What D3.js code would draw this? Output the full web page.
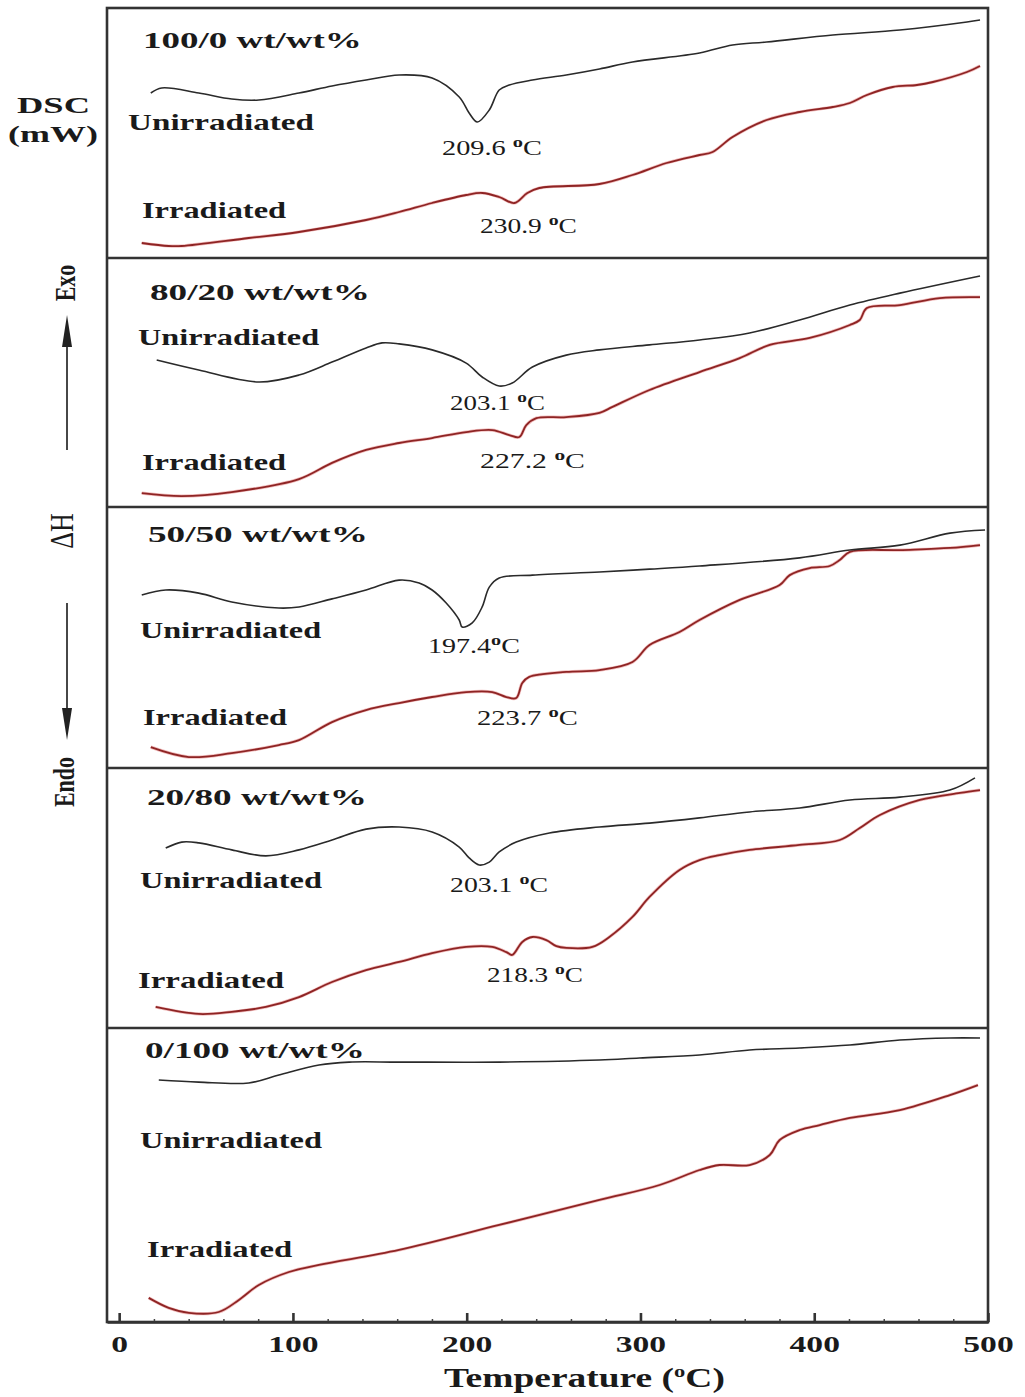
<!DOCTYPE html>
<html>
<head>
<meta charset="utf-8">
<script src="https://cdn.jsdelivr.net/npm/d3@7"></script>
<style>
body { margin: 0; background: #fff; }
svg { display: block; }
text { font-family: "Liberation Serif", "DejaVu Serif", serif; fill: #1a1a1a; }
</style>
</head>
<body>
<div id="main"></div>
<script>
// panel names (blend ratio) and peak temperatures
const blends = ["100/0 wt/wt%", "80/20 wt/wt%", "50/50 wt/wt%", "20/80 wt/wt%", "0/100 wt/wt%"];
const peakUnirr = ["209.6 ", "203.1 ", "197.4", "203.1 ", null];
const peakIrr = ["230.9 ", "227.2 ", "223.7  ", "218.3 ", null];
const xTicks = [0, 100, 200, 300, 400, 500];

// DSC traces, [temperature °C, heat flow in % of panel height]
const unirr100 = [[18.2,66],[24.5,68],[45.8,66],[64.8,63.6],[80.4,63.2],[103.5,66],[122.5,68.8],[142.1,71.2],[161.1,73.2],[180.1,72],[195.7,64.4],[201.4,58],[206.1,54.4],[213,59.2],[218.7,67.2],[224.5,69.2],[237.8,71.2],[257.3,73.2],[276.4,75.6],[295.4,78.4],[334,82],[353,85.2],[372.6,86.4],[410.7,89.2],[449.3,91.2],[487.9,94.4],[495.4,95.2]];
const irr100 = [[13,6],[28.5,4.8],[36,4.8],[74.6,8],[103.5,10.4],[142.1,15.2],[161.1,18.4],[180.1,22],[199.7,25.2],[208.9,26],[218.7,24.4],[227.4,22],[234.9,26],[241.8,28],[276.4,29.6],[295.4,33.2],[315,38],[334,41.2],[341.5,42.4],[353,48.4],[372.6,55.2],[391.6,58.4],[410.7,60.4],[420.5,62],[430.3,65.2],[445.2,68.4],[459.1,69.2],[468.3,70.4],[487.9,74.4],[495.4,76.8]];

const unirr80 = [[21.6,59],[45.8,55],[80.4,50.2],[103.5,53],[122.5,58.2],[142.1,63.9],[151.3,65.9],[161.1,65.5],[180.1,63.1],[199.7,57.8],[208.9,52.2],[218.7,48.6],[226.2,49.8],[237.8,56.2],[257.3,61],[276.4,63.1],[305.2,65.1],[334,67.1],[362.8,69.9],[391.6,75.1],[420.5,81.1],[449.3,85.9],[495.4,92.8]];
const irr80 = [[13,5.6],[36,4.4],[64.8,6],[103.5,11.2],[122.5,17.7],[142.1,22.9],[161.1,25.7],[180.1,27.7],[199.7,30.1],[214.7,30.9],[224.5,28.9],[230.3,28.1],[234.3,32.9],[240.1,35.7],[257.3,36.1],[276.4,37.8],[283.9,40.2],[305.2,47],[334,54.2],[357.1,59.8],[374.4,65.1],[397.4,67.9],[420.5,73.1],[426.2,75.1],[430.3,79.9],[449.3,81.1],[472.3,83.9],[495.4,84.3]];

const unirr50 = [[13,66.3],[26.8,68.2],[45.8,67],[64.8,63.6],[91.9,61.3],[103.5,61.7],[122.5,64.8],[142.1,68.2],[161.1,72],[172.6,70.9],[180.1,68.2],[188.2,63.2],[195.7,56.7],[197.4,54],[203.2,55.6],[208.9,61.7],[213,69.3],[218.7,72.8],[237.8,73.9],[276.4,75.1],[305.2,76.2],[334,77.4],[391.6,80.5],[420.5,83.5],[449.3,85.4],[478.1,90],[498.3,91.2]];
const irr50 = [[18.2,8],[40.1,4.2],[64.8,5.7],[91.9,8.8],[103.5,10.7],[122.5,17.6],[142.1,22.2],[161.1,24.9],[180.1,27.2],[199.7,29.1],[214.7,29.1],[222.8,27.2],[228.5,26.8],[232,32.6],[236,34.9],[257.3,36.8],[276.4,37.5],[295.4,40.6],[305.2,47.1],[322.5,52.1],[334,56.7],[357.1,64.4],[380.1,70.1],[385.9,73.9],[397.4,76.6],[408.9,77.4],[414.7,79.7],[420.5,82.8],[449.3,83.5],[478.1,84.3],[495.4,85.4]];

const unirr20 = [[26.8,69.2],[36,71.5],[45.8,71.2],[64.8,68.5],[84.4,66.2],[103.5,68.5],[122.5,72.3],[142.1,76.5],[161.1,77.3],[180.1,75.4],[195.7,69.6],[201.4,65.4],[207.2,62.7],[213,63.8],[218.7,67.7],[228.5,71.5],[247.6,75],[276.4,77.3],[305.2,78.8],[334,80.8],[362.8,83.1],[391.6,84.6],[420.5,87.7],[449.3,88.8],[478.1,91.5],[492.5,96.2]];
const irr20 = [[21,8.1],[45.8,5.4],[64.8,6.2],[84.4,8.1],[103.5,11.9],[122.5,17.7],[142.1,22.3],[161.1,25.4],[180.1,28.8],[199.7,31.2],[214.7,31.2],[222.8,29.2],[226.2,28.1],[232,33.1],[237.8,35],[245.8,33.8],[251.6,31.5],[257.3,30.8],[272.3,31.2],[282.1,35],[295.4,42.7],[305.2,50.4],[322.5,60.8],[334,64.6],[345.5,66.5],[362.8,68.5],[391.6,70.4],[414.7,72.3],[426.2,76.9],[437.8,81.9],[460.8,87.7],[483.9,90.4],[495.4,91.5]];

const unirr0 = [[22.8,82.3],[45.8,81.6],[74.6,81.3],[91.9,84],[115,87.4],[132.3,88.4],[161.1,88.4],[218.7,88.4],[276.4,89.1],[299.4,89.8],[334,90.8],[362.8,92.5],[391.6,93.2],[420.5,94.2],[449.3,95.9],[478.1,96.6],[495.4,96.6]];
const irr0 = [[17,8.2],[28.5,4.8],[40.1,3.1],[57.3,3.4],[68.9,7.5],[80.4,12.6],[97.7,17],[115,19.4],[161.1,24.5],[218.7,33],[276.4,41.5],[311,46.6],[334,51.7],[345.5,53.4],[362.8,53.4],[374.4,56.8],[380.1,61.9],[391.6,65.3],[403.2,67],[420.5,69.4],[449.3,72.1],[478.1,77.2],[494.2,80.6]];

const unirrAll = [unirr100, unirr80, unirr50, unirr20, unirr0];
const irrAll = [irr100, irr80, irr50, irr20, irr0];

// layout
const W = 1025, H = 1397;
const left = 107, right = 988;
const panelTops = [8, 258, 507, 768, 1028];
const plotBottom = 1322;
// text boxes: [left x, baseline y, width]
const titlePos = [[143,48,219],[150,300,220],[148,542,220],[147,805,220],[145,1058,220]];
const unirrPos = [[128,130,187],[138,345,182],[140,638,182],[140,888,183],[140,1148,183]];
const irrPos = [[142,218,145],[142,470,145],[143,725,145],[138,988,147],[147,1257,146]];
const peakUPos = [[442,155,100],[450,410,95],[428,653,92],[450,892,98]];
const peakIPos = [[480,233,97],[480,468,105],[477,725,101],[487,982,96]];

const svg = d3.select("#main").append("svg").attr("width", W).attr("height", H);

const x = d3.scaleLinear().domain([-7, 500]).range([left, right]);

// text stretched horizontally to match the reference widths
function addText(g, x0, y0, width, size, weight, build) {
    const t = g.append("text").attr("font-size", size).attr("font-weight", weight);
    build(t);
    const w = t.node().getBBox().width;
    t.attr("transform", `translate(${x0},${y0}) scale(${width / w},1)`);
    return t;
}

function degLabel(t, num) {
    t.append("tspan").text(num);
    t.append("tspan").attr("font-size", "0.72em").attr("dy", "-0.5em").attr("font-weight", "bold").text("o");
    t.append("tspan").attr("dy", "0.36em").text("C");
}

const line = d3.line().curve(d3.curveCatmullRom.alpha(0.5));

blends.forEach((name, i) => {
    const top = panelTops[i];
    const bottom = i < 4 ? panelTops[i + 1] : plotBottom;
    const y = d3.scaleLinear().domain([0, 100]).range([bottom, top]);
    line.x(d => x(d[0])).y(d => y(d[1]));

    const g = svg.append("g").attr("class", "panel");

    g.append("path")
        .attr("d", line(irrAll[i]))
        .attr("fill", "none")
        .attr("stroke", "#e06a6a")
        .attr("stroke-width", 3.2)
        .attr("opacity", 0.45);
    g.append("path")
        .attr("d", line(irrAll[i]))
        .attr("fill", "none")
        .attr("stroke", "#8e2424")
        .attr("stroke-width", 1.8);
    g.append("path")
        .attr("d", line(unirrAll[i]))
        .attr("fill", "none")
        .attr("stroke", "#2a2a2a")
        .attr("stroke-width", 1.6);

    addText(g, titlePos[i][0], titlePos[i][1], titlePos[i][2], 23, "bold", t => t.text(name));
    addText(g, unirrPos[i][0], unirrPos[i][1], unirrPos[i][2], 24, "bold", t => t.text("Unirradiated"));
    addText(g, irrPos[i][0], irrPos[i][1], irrPos[i][2], 24, "bold", t => t.text("Irradiated"));

    if (peakUnirr[i]) {
        addText(g, peakUPos[i][0], peakUPos[i][1], peakUPos[i][2], 21, "normal", t => degLabel(t, peakUnirr[i]));
        addText(g, peakIPos[i][0], peakIPos[i][1], peakIPos[i][2], 21, "normal", t => degLabel(t, peakIrr[i]));
    }
});

// frame and panel separators
svg.append("rect")
    .attr("x", left).attr("y", panelTops[0])
    .attr("width", right - left).attr("height", plotBottom - panelTops[0])
    .attr("fill", "none").attr("stroke", "#333").attr("stroke-width", 2.6);
svg.selectAll("line.sep")
    .data(panelTops.slice(1))
    .enter().append("line")
    .attr("class", "sep")
    .attr("x1", left).attr("x2", right)
    .attr("y1", d => d).attr("y2", d => d)
    .attr("stroke", "#333").attr("stroke-width", 2.6);

// x axis
const minorTicks = d3.range(20, 500, 20).filter(d => d % 100 !== 0);
svg.append("g")
    .attr("transform", `translate(0,${plotBottom})`)
    .call(d3.axisBottom(x).tickValues(minorTicks).tickSize(-3).tickSizeOuter(0).tickFormat(""))
    .call(g => g.select(".domain").remove())
    .selectAll("line").attr("stroke", "#444").attr("stroke-width", 1.5);

const xAxisG = svg.append("g")
    .attr("transform", `translate(0,${plotBottom})`)
    .call(d3.axisBottom(x).tickValues(xTicks).tickSize(-9).tickSizeOuter(0).tickFormat(d3.format("d")));
xAxisG.select(".domain").attr("stroke", "#333").attr("stroke-width", 2.6);
xAxisG.selectAll(".tick line").attr("stroke", "#333").attr("stroke-width", 2.6);
xAxisG.selectAll(".tick text")
    .attr("font-size", 24).attr("font-weight", "bold")
    .attr("font-family", "Liberation Serif, DejaVu Serif, serif")
    .attr("fill", "#1a1a1a")
    .attr("y", 30).attr("dy", 0)
    .attr("transform", "scale(1.4,1)");

addText(svg, 444, 1387, 281, 28, "bold", t => {
    t.append("tspan").text("Temperature (");
    t.append("tspan").attr("font-size", "0.6em").attr("dy", "-0.6em").text("o");
    t.append("tspan").attr("dy", "0.36em").text("C)");
});

// y-axis annotation on the left
addText(svg, 17, 113, 73, 24, "bold", t => t.text("DSC"));
addText(svg, 8, 142, 90, 24, "bold", t => t.text("(mW)"));

function vText(cx, cy, size, weight, s) {
    svg.append("text")
        .attr("font-size", size).attr("font-weight", weight)
        .attr("text-anchor", "middle").attr("dominant-baseline", "central")
        .attr("transform", `translate(${cx},${cy}) scale(1.33,1) rotate(-90)`)
        .text(s);
}
vText(65, 283, 22, "bold", "Exo");
vText(62, 531, 26, "normal", "\u0394H");
vText(64, 782, 22, "bold", "Endo");

const ax = 67;
svg.append("line").attr("x1", ax).attr("x2", ax).attr("y1", 450).attr("y2", 340)
    .attr("stroke", "#333").attr("stroke-width", 1.8);
svg.append("path").attr("d", `M${ax},315 L${ax - 5},347 L${ax + 5},347 Z`).attr("fill", "#222");
svg.append("line").attr("x1", ax).attr("x2", ax).attr("y1", 603).attr("y2", 712)
    .attr("stroke", "#333").attr("stroke-width", 1.8);
svg.append("path").attr("d", `M${ax},740 L${ax - 5},708 L${ax + 5},708 Z`).attr("fill", "#222");
</script>
</body>
</html>
